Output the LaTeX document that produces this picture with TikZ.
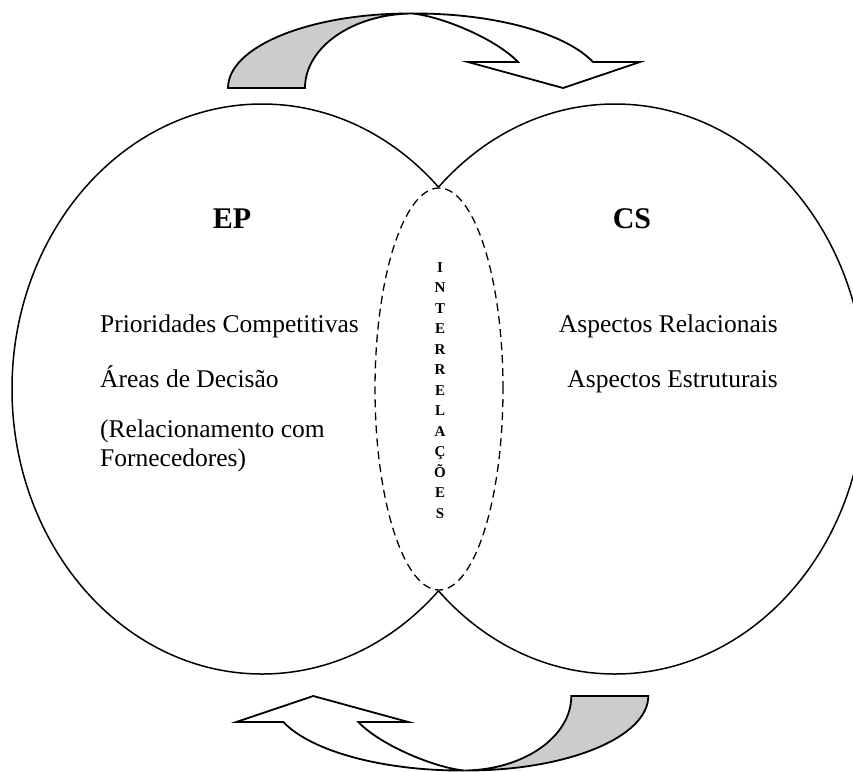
\documentclass[tikz,border=0pt]{standalone}
\usepackage{fontspec}
\setmainfont{Liberation Serif}
\begin{document}
\begin{tikzpicture}[x=1pt,y=-1pt,line join=round,
  outline/.style={draw=black,line width=1.5pt},
  lensline/.style={draw=black,line width=1.3pt,dash pattern=on 8pt off 5pt},
  ribline/.style={draw=black,line width=1.8pt,line join=miter},
  lettr/.style={font=\fontsize{15}{15}\selectfont\bfseries,anchor=base,inner sep=0pt},
  txt/.style={font=\fontsize{25.5}{30}\selectfont,anchor=base west,inner sep=0pt},
  ttl/.style={font=\fontsize{30}{34}\selectfont\bfseries,anchor=base,inner sep=0pt},
  ribbon/.pic={
    \filldraw[ribline,fill=gray!40] (228,88) .. controls (228,46.6) and (310,13) .. (412,13.5)
       .. controls (353,14) and (305,47) .. (305,88) -- cycle;
    \filldraw[ribline,fill=white] (412,13.5) .. controls (492.7,13) and (565,32.6) .. (593,62)
       -- (640,62) -- (563,88) -- (468,62) -- (518,62)
       .. controls (495,38) and (440,16) .. (412,13.5) -- cycle;
  }]
\useasboundingbox (0,0) rectangle (853,771);
\fill[white] (0,0) rectangle (853,771);

\coordinate (cL) at (262,389);
\coordinate (cR) at (615,389);

\begin{scope}[even odd rule]
  \clip (-20,-20) rectangle (900,800) (cR) ellipse [x radius=250pt,y radius=285pt];
  \draw[outline] (cL) ellipse [x radius=250pt,y radius=285pt];
\end{scope}
\begin{scope}[even odd rule]
  \clip (-20,-20) rectangle (900,800) (cL) ellipse [x radius=250pt,y radius=285pt];
  \draw[outline] (cR) ellipse [x radius=250pt,y radius=285pt];
\end{scope}

\draw[lensline] (439,389) ellipse [x radius=64pt,y radius=201pt];

\pic at (0,0) {ribbon};
\pic[rotate=180] at (876.3,784) {ribbon};

\node[ttl] (ep) at (232,228) {EP};
\node[ttl] (cs) at (632,228) {CS};
\node[txt] (pc) at (100,332) {Prioridades Competitivas};
\node[txt] (ad) at (100,387) {Áreas de Decisão};
\node[txt] (rf) at (100,437) {(Relacionamento com};
\node[txt] (fo) at (100,466) {Fornecedores)};
\node[txt,anchor=base east] (ar) at (778,332) {Aspectos Relacionais};
\node[txt,anchor=base east] (ae) at (778,387) {Aspectos Estruturais};

\foreach \ch [count=\i] in {I,N,T,E,R,R,E,L,A,Ç,Õ,E,S}
  \node[lettr] (l\i) at (440,{267+(\i-1)*20.5+5}) {\ch};
\end{tikzpicture}
\end{document}
